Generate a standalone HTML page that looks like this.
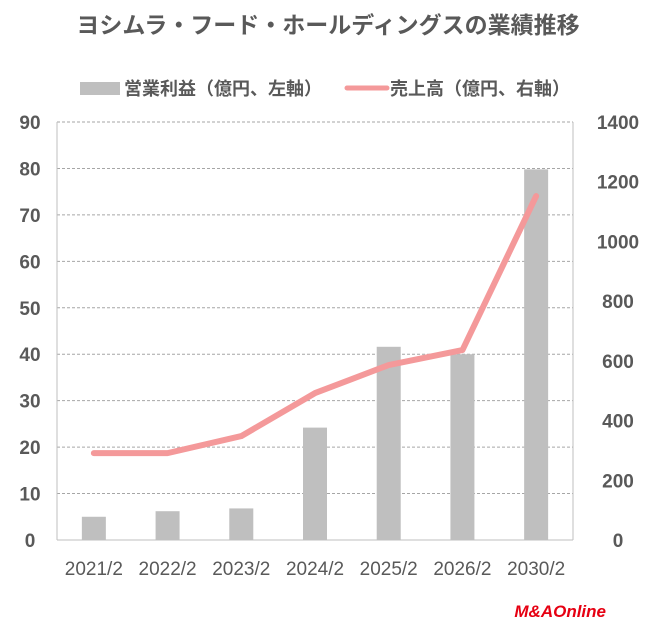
<!DOCTYPE html>
<html><head><meta charset="utf-8"><style>
body{margin:0;background:#fff;width:656px;height:637px;overflow:hidden;font-family:"Liberation Sans","Noto Sans CJK JP",sans-serif}
</style></head><body>
<svg id="c" width="656" height="637" xmlns="http://www.w3.org/2000/svg">
<text x="328" y="33" text-anchor="middle" font-size="23" font-weight="bold" fill="#595959" font-family="Liberation Sans, Noto Sans CJK JP, sans-serif">ヨシムラ・フード・ホールディングスの業績推移</text>
<g>
<rect x="80" y="82" width="40" height="13" fill="#bfbfbf"/>
<text x="124" y="95" font-size="18" font-weight="bold" fill="#595959" font-family="Liberation Sans, Noto Sans CJK JP, sans-serif">営業利益（億円、左軸）</text>
<line x1="347" y1="88" x2="387" y2="88" stroke="#f4999a" stroke-width="5" stroke-linecap="round"/>
<text x="390" y="95" font-size="18" font-weight="bold" fill="#595959" font-family="Liberation Sans, Noto Sans CJK JP, sans-serif">売上高（億円、右軸）</text>
</g>
<g id="grid"></g><g id="bars"></g><g id="line"></g><g id="axes"></g>
<text x="606" y="617" text-anchor="end" font-size="17" font-weight="bold" font-style="italic" fill="#e60012">M&amp;AOnline</text>
</svg>
<script>
const categories=["2021/2","2022/2","2023/2","2024/2","2025/2","2026/2","2030/2"];
const profit=[5,6.2,6.8,24.2,41.6,40,79.8];
const sales=[291,291,348,492,586,636,1152];
const leftTicks=[0,10,20,30,40,50,60,70,80,90];
const rightTicks=[0,200,400,600,800,1000,1200,1400];
const NS="http://www.w3.org/2000/svg";
const X0=57,X1=573,Y0=540,Y1=122;
const yL=v=>Y0-(v/90)*(Y0-Y1);
const yR=v=>Y0-(v/1400)*(Y0-Y1);
const step=(X1-X0)/categories.length;
const xC=i=>X0+step*(i+0.5);
function mk(t,a,p){const e=document.createElementNS(NS,t);for(const k in a)e.setAttribute(k,a[k]);p.appendChild(e);return e;}
const grid=document.getElementById('grid'),axes=document.getElementById('axes'),bars=document.getElementById('bars'),line=document.getElementById('line');
leftTicks.forEach(v=>{
 if(v>0){const g=mk('line',{x1:X0,x2:X1,y1:yL(v),y2:yL(v),stroke:'#a6a6a6','stroke-dasharray':'3,2','stroke-width':1},grid);
 
 }
 const t=mk('text',{x:30,y:yL(v)+7,'text-anchor':'middle','font-size':19,'font-weight':'bold',fill:'#595959'},axes);t.textContent=v;
 
 
});
rightTicks.forEach(v=>{
 const t=mk('text',{x:618,y:yR(v)+7,'text-anchor':'middle','font-size':19,'font-weight':'bold',fill:'#595959'},axes);t.textContent=v;
 
 
});
[X0,X1].forEach(x=>{const a=mk('line',{x1:x,x2:x,y1:Y1,y2:Y0,stroke:'#bfbfbf'},axes);
 
 });
const b=mk('line',{x1:X0,x2:X1,y1:Y0,y2:Y0,stroke:'#bfbfbf'},axes);


profit.forEach((v,i)=>{
 const r=mk('rect',{x:xC(i)-12,width:24,y:yL(v),height:Y0-yL(v),fill:'#bfbfbf'},bars);
 
 
 const t=mk('text',{x:xC(i),y:575,'text-anchor':'middle','font-size':19,fill:'#595959'},axes);t.textContent=categories[i];
 
 
});
const p=mk('polyline',{points:sales.map((v,i)=>xC(i)+','+yR(v)).join(' '),fill:'none',stroke:'#f4999a','stroke-width':6,'stroke-linejoin':'round','stroke-linecap':'round'},line);


</script>
</body></html>
